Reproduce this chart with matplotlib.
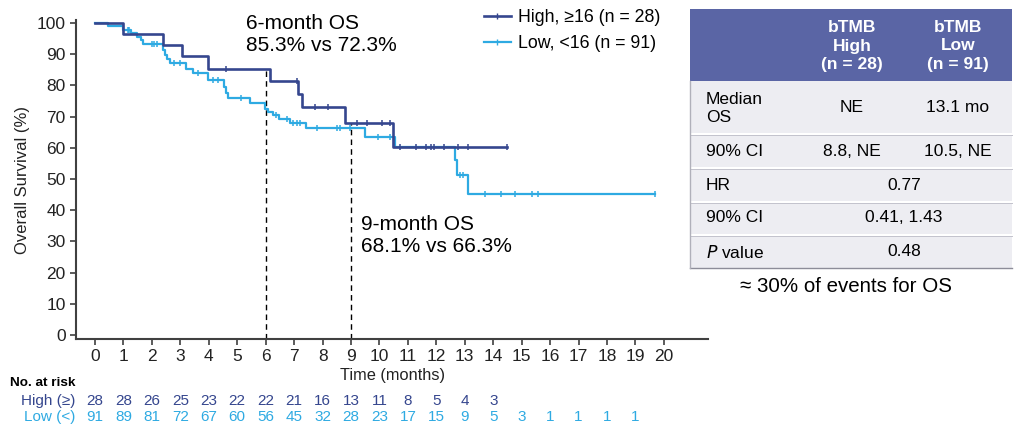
import numpy as np
import matplotlib
matplotlib.use("Agg")
import matplotlib.pyplot as plt
from matplotlib.lines import Line2D
from matplotlib.patches import Rectangle
import matplotlib.transforms as mtransforms

plt.rcParams['font.family'] = ['Liberation Sans', 'DejaVu Sans']

# Kaplan-Meier data
high_t = [0, 0.97, 2.38, 3.05, 3.96, 6.16, 7.15, 7.26, 8.79, 10.49]
high_s = [100, 96.4, 92.9, 89.3, 85.3, 81.3, 77.3, 73.2, 68.1, 60.4]
high_end = 14.47
high_cens = [4.6, 7.09, 7.73, 8.2, 9.2, 9.55, 10.08, 10.37, 10.72, 11.3, 11.65,
             11.8, 11.9, 12.28, 12.77, 13.12, 14.47]

low_t = [0, 0.47, 1.0, 1.25, 1.49, 1.6, 1.7, 2.38, 2.46, 2.54, 2.64, 3.2, 3.46,
         3.96, 4.53, 4.6, 4.69, 5.45, 5.98, 6.09, 6.24, 6.48, 6.85, 7.42, 9.49,
         10.54, 12.65, 12.71, 13.12]
low_s = [100, 98.9, 97.8, 96.7, 95.6, 94.5, 93.4, 91.3, 89.9, 88.6, 87.2, 85.1,
         83.9, 81.7, 79.6, 77.6, 75.9, 74.4, 72.3, 71.4, 70.4, 69.3, 68.0, 66.3,
         63.6, 60.4, 56.1, 51.3, 45.3]
low_end = 19.68
low_cens = [1.15, 1.2, 1.99, 2.08, 2.19, 2.79, 2.99, 3.63, 4.16, 4.33, 5.13, 6.36,
            6.74, 6.95, 7.1, 7.2, 7.81, 8.49, 8.61, 8.96, 9.96, 10.37, 12.83,
            12.95, 13.71, 14.26, 14.76, 15.35, 15.58, 19.68]

landmark_months = [6, 9]
landmark_high = [85.3, 68.1]
landmark_low = [72.3, 66.3]

risk_times = list(range(0, 20))
high_risk = [28, 28, 26, 25, 23, 22, 22, 21, 16, 13, 11, 8, 5, 4, 3]
low_risk = [91, 89, 81, 72, 67, 60, 56, 45, 32, 28, 23, 17, 15, 9, 5, 3, 1, 1, 1, 1]

table_cols = ['bTMB\nHigh\n(n = 28)', 'bTMB\nLow\n(n = 91)']
median_os = ['NE', '13.1 mo']
median_ci = ['8.8, NE', '10.5, NE']
hr = '0.77'
hr_ci = '0.41, 1.43'
p_value = '0.48'

c_high = '#35468e'
c_low = '#2eaae2'
c_head = '#5a65a5'
c_body = '#ededf2'

fig = plt.figure(figsize=(10.18, 4.26), dpi=100)
ax = fig.add_axes([76 / 1018, 1 - 339 / 426, 632 / 1018, 319 / 426])
ax.patch.set_visible(False)


def km(ax, t, s, end, cens, color, lw):
    x = list(t) + [end]
    y = list(s) + [s[-1]]
    ax.step(x, y, where='post', color=color, lw=lw, zorder=3)
    idx = np.searchsorted(t, cens, side='right') - 1
    ax.plot(cens, np.array(s)[idx], ls='none', marker='|', ms=5, mew=1.1,
            color=color, zorder=4)


km(ax, low_t, low_s, low_end, low_cens, c_low, 1.6)
km(ax, high_t, high_s, high_end, high_cens, c_high, 1.9)

ax.set_xlim(-0.668, 21.55)
ax.set_ylim(-1.28, 100.96)
for m, hv in zip(landmark_months, landmark_high):
    ax.vlines(m, -1.28, hv, colors='black', lw=1, linestyles=(0, (4, 3)), zorder=2)

ax.text(5.31, 103, '6-month OS\n85.3% vs 72.3%', fontsize=15, va='top',
        linespacing=1.2)
ax.text(9.35, 38.6, '9-month OS\n68.1% vs 66.3%', fontsize=15, va='top',
        linespacing=1.2)

ax.set_xticks(range(0, 21))
ax.set_yticks(range(0, 101, 10))
ax.tick_params(labelsize=12.5, colors='#404040', labelcolor='#222222', length=4,
               width=1.2)
ax.tick_params(axis='x', pad=3)
for sp in ['top', 'right']:
    ax.spines[sp].set_visible(False)
for sp in ['left', 'bottom']:
    ax.spines[sp].set_color('#404040')
    ax.spines[sp].set_linewidth(1.5)
ax.set_ylabel('Overall Survival (%)', fontsize=12, color='#222222', labelpad=5)
ax.set_xlabel('Time (months)', fontsize=11.8, color='#222222', labelpad=3)

handles = [Line2D([], [], color=c_high, lw=1.9, marker='|', ms=5),
           Line2D([], [], color=c_low, lw=1.6, marker='|', ms=5)]
fig.legend(handles, ['High, \u226516 (n = 28)', 'Low, <16 (n = 91)'],
           loc='upper left', bbox_to_anchor=(484 / 1018, 1 - 9 / 426),
           frameon=False, fontsize=12.8, handlelength=1.5, handletextpad=0.4,
           labelspacing=0.5, borderpad=0, borderaxespad=0)

# number at risk
tr = mtransforms.blended_transform_factory(ax.transData, fig.transFigure)
fig.text(10 / 1018, 1 - 383 / 426, 'No. at risk', fontsize=9.7, fontweight='bold',
         va='center')
fig.text(75 / 1018, 1 - 401 / 426, 'High (\u2265)', fontsize=11, color=c_high,
         ha='right', va='center')
fig.text(75 / 1018, 1 - 417 / 426, 'Low (<)', fontsize=11, color=c_low,
         ha='right', va='center')
for t, n in zip(risk_times, high_risk):
    ax.text(t, 1 - 401 / 426, str(n), transform=tr, fontsize=11, color=c_high,
            ha='center', va='center')
for t, n in zip(risk_times, low_risk):
    ax.text(t, 1 - 417 / 426, str(n), transform=tr, fontsize=11, color=c_low,
            ha='center', va='center')

# summary table
tab = fig.add_axes([0, 0, 1, 1], zorder=5)
tab.set_xlim(0, 1018)
tab.set_ylim(426, 0)
tab.axis('off')
tab.add_patch(Rectangle((690, 9), 322, 72, color=c_head, lw=0))
tab.add_patch(Rectangle((690, 81), 322, 187, color=c_body, lw=0))
for yb in [134, 168, 202, 235]:
    tab.plot([690, 1012], [yb, yb], color='white', lw=2.2)
    tab.plot([690, 1012], [yb + 1.2, yb + 1.2], color='#c2c2cc', lw=0.7)
tab.plot([690, 1012], [268, 268], color='#8d8d99', lw=1)
tab.plot([690.5, 690.5], [81, 268], color='#b0b0ba', lw=1)

fs = 12.5
col_x = [852, 958]
for cx, lab in zip(col_x, table_cols):
    tab.text(cx, 46, lab, color='white', fontsize=fs, fontweight='bold',
             ha='center', va='center', linespacing=1.25)
tab.text(706, 108, 'Median\nOS', fontsize=fs, va='center', linespacing=1.25)
tab.text(706, 151, '90% CI', fontsize=fs, va='center')
tab.text(706, 185, 'HR', fontsize=fs, va='center')
tab.text(706, 218, '90% CI', fontsize=fs, va='center')
tab.text(706, 252, '$\\it{P}$ value', fontsize=fs, va='center')
for cx, a, b in zip(col_x, median_os, median_ci):
    tab.text(cx, 108, a, fontsize=fs, ha='center', va='center')
    tab.text(cx, 151, b, fontsize=fs, ha='center', va='center')
tab.text(904, 185, hr, fontsize=fs, ha='center', va='center')
tab.text(904, 218, hr_ci, fontsize=fs, ha='center', va='center')
tab.text(904, 252, p_value, fontsize=fs, ha='center', va='center')
tab.text(846, 287, '\u2248 30% of events for OS', fontsize=14.8, ha='center',
         va='center')

fig.savefig('out.png', dpi=100)
